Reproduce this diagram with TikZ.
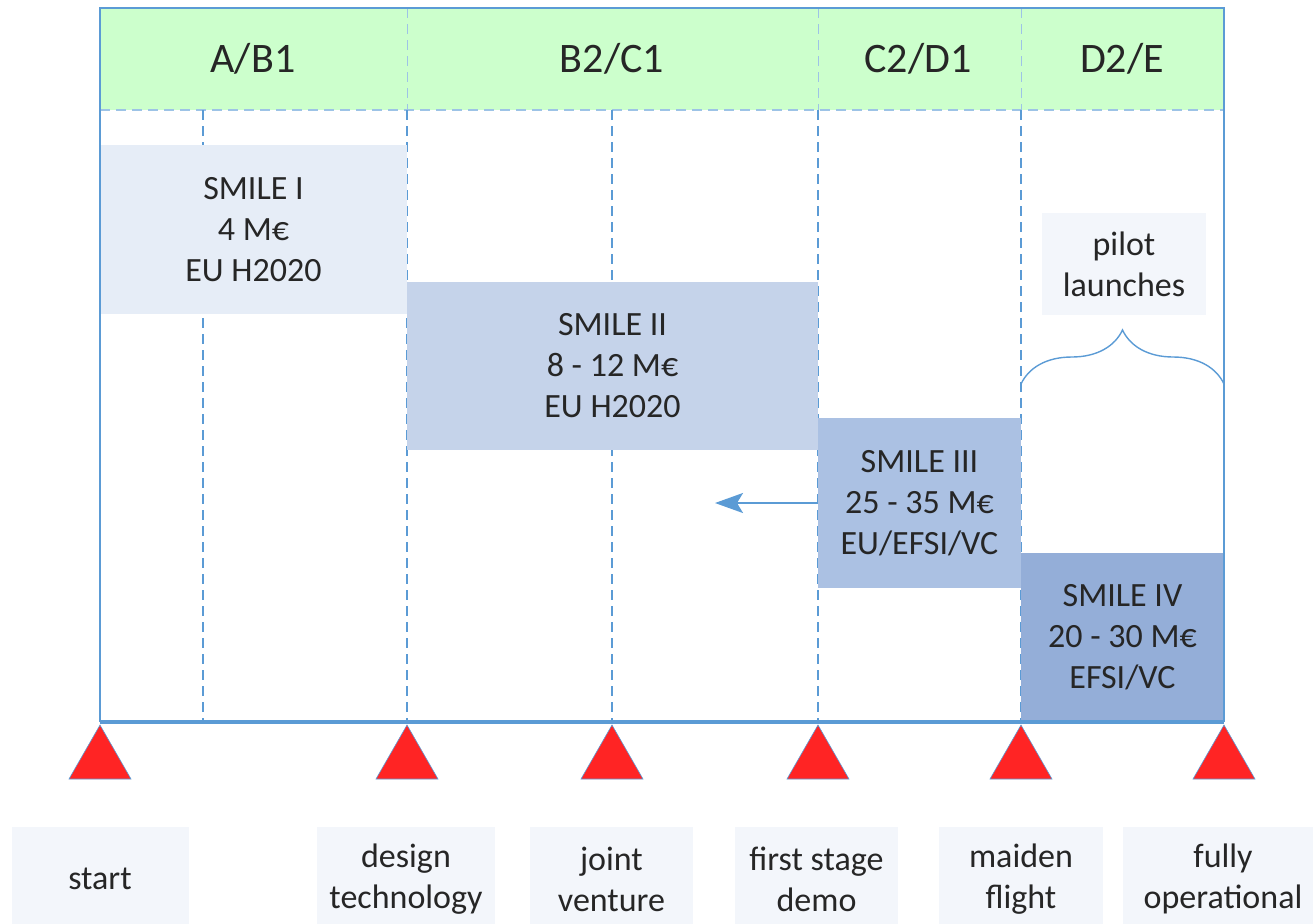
\documentclass[tikz,border=0pt]{standalone}
\usepackage{fontspec}
\setmainfont{Carlito}
\usepackage{tikz}
\usetikzlibrary{positioning,calc,decorations.pathreplacing,arrows.meta}
\definecolor{smilegreen}{RGB}{204,255,204}
\definecolor{smileblue}{RGB}{91,155,213}
\definecolor{smilepale}{RGB}{157,195,230}
\definecolor{smileone}{RGB}{230,237,247}
\definecolor{smiletwo}{RGB}{197,211,234}
\definecolor{smilethree}{RGB}{171,193,227}
\definecolor{smilefour}{RGB}{148,174,216}
\definecolor{smilelabel}{RGB}{243,246,251}
\definecolor{smilered}{RGB}{255,36,36}
\definecolor{smiletext}{RGB}{38,38,38}

\begin{document}
\begin{tikzpicture}[x=0.5pt,y=-0.5pt,
    phase/.style={font=\fontsize{21}{25}\selectfont,text=smiletext},
    stage/.style={inner sep=0pt,outer sep=0pt,align=center,
      font=\fontsize{17}{20.5}\selectfont,text=smiletext},
    milestone/.style={stage,fill=smilelabel,minimum height=52pt},
    gridline/.style={smileblue,dash pattern=on 5pt off 3pt,line width=0.6pt}]
  \useasboundingbox (0,0) rectangle (1313,923);
  % phase band
  \fill[smilegreen] (100,8) rectangle (1224,110);
  \foreach \x in {407,818,1021}
    \draw[smilepale,dash pattern=on 5pt off 3pt,line width=0.5pt] (\x,8) -- (\x,110);
  \draw[smilepale,dash pattern=on 5pt off 3pt,line width=0.6pt] (100,110) -- (1224,110);
  \foreach \xpos/\name/\i in {253/{A/B1}/1,612/{B2/C1}/2,918/{C2/D1}/3,1122/{D2/E}/4}
    \node[phase] (ph\i) at (\xpos,59) {\name};
  \foreach \x in {203,407,612,818,1021}
    \draw[gridline] (\x,110) -- (\x,722);
  % funding stages
  \node[stage,fill=smileone,minimum width=153.5pt,minimum height=84.5pt] (s1) at (253.5,229.5)
    {SMILE I\\4 M€\\EU H2020};
  \node[stage,fill=smiletwo,minimum width=205.5pt,minimum height=84pt] (s2) at (612.5,366)
    {SMILE II\\8 - 12 M€\\EU H2020};
  \node[stage,fill=smilethree,minimum width=101.5pt,minimum height=85pt] (s3) at (919.5,503)
    {SMILE III\\25 - 35 M€\\EU/EFSI/VC};
  \node[stage,fill=smilefour,minimum width=101.5pt,minimum height=84.5pt] (s4) at (1122.5,637.5)
    {SMILE IV\\20 - 30 M€\\EFSI/VC};
  \node[stage,fill=smilelabel,minimum width=82pt,minimum height=51pt] (pilot) at (1124,264)
    {pilot\\launches};
  \coordinate (back) at (715,503);
  \draw[smileblue,line width=1pt,-{Stealth[length=14pt,width=10pt,inset=3pt]}] (s3.west) -- (back);
  \coordinate (bl) at (1021,384);
  \coordinate (br) at (1224,384);
  \draw[smileblue,line width=0.7pt,decorate,decoration={brace,amplitude=27pt}] (bl) -- (br);
  % frame
  \draw[smileblue,line width=1.2pt] (100,722) -- (100,8) -- (1224,8) -- (1224,722);
  \draw[smileblue,line width=1.6pt] (100,722) -- (1224,722);
  % milestones
  \foreach \x in {100,407,612,818,1021,1224}
    \filldraw[fill=smilered,draw=smileblue,line width=0.3pt] (\x,725) -- ++(31,54) -- ++(-62,0) -- cycle;
  \foreach \x/\w/\txt/\i in {100/177/start/1,406/178/{design\\technology}/2,
      611.5/163/{joint\\venture}/3,816.5/163/{first stage\\demo}/4,
      1021/164/{maiden\\flight}/5,1223/200/{fully\\operational}/6}
    \node[milestone,minimum width=\w*0.5pt] (ms\i) at (\x,879) {\txt};
\end{tikzpicture}
\end{document}
